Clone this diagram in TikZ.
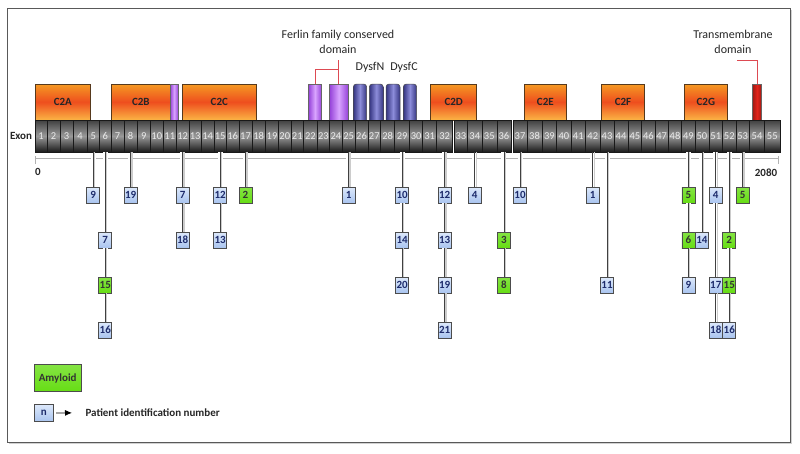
\documentclass[tikz,border=0pt]{standalone}
\usepackage{fontspec}
\setmainfont{Carlito}
\usetikzlibrary{arrows.meta}

\definecolor{patblue}{HTML}{A9C4EF}
\definecolor{patbluetop}{HTML}{DDE9FB}
\definecolor{patnum}{HTML}{1D2B6B}
\definecolor{amygreen}{HTML}{66DD14}
\definecolor{ctwotop}{HTML}{F59A23}
\definecolor{ctwomid}{HTML}{EE4E1E}
\definecolor{ctwobot}{HTML}{FBB444}
\definecolor{ferlinedge}{HTML}{9440D8}
\definecolor{ferlinmid}{HTML}{D9A4FF}
\definecolor{dysfedge}{HTML}{343480}
\definecolor{dysfmid}{HTML}{8C8CDA}
\definecolor{tmred}{HTML}{E2231A}
\definecolor{bracketred}{HTML}{DD4A52}

\tikzset{
  exon/.style={draw=black!90, line width=0.6pt, top color=black!75, bottom color=black!90,
    middle color=black!40, minimum height=32, inner sep=0pt, text=black!8,
    font=\fontsize{10.5}{11}\selectfont},
  ctwo/.style={draw=black!55!brown, line width=0.6pt, top color=ctwotop, bottom color=ctwobot,
    middle color=ctwomid, minimum height=36, inner sep=0pt, text=black!85,
    font=\fontsize{11}{12}\selectfont\bfseries},
  ferlin/.style={draw=black!60, line width=0.5pt, left color=ferlinedge, right color=ferlinedge,
    middle color=ferlinmid, minimum height=36, inner sep=0pt},
  dysf/.style={draw=black!70, line width=0.5pt, left color=dysfedge, right color=dysfedge,
    middle color=dysfmid, minimum height=40, inner sep=0pt, rounded corners=3pt},
  tmd/.style={draw=black!60, line width=0.5pt, left color=tmred!70!black, right color=tmred!70!black,
    middle color=tmred, minimum height=36, inner sep=0pt},
  pat/.style={draw=black!70, line width=0.7pt, top color=patbluetop, bottom color=patblue,
    minimum width=13, minimum height=16, inner sep=0pt, text=patnum,
    font=\fontsize{11}{12}\selectfont\bfseries},
  amy/.style={pat, top color=amygreen!80!white, bottom color=amygreen, text=black!80},
  link/.style={draw=black!75, line width=0.8pt,
    preaction={draw=white, line width=5pt, shorten <=1pt, shorten >=1pt},
    preaction={draw=black!20, line width=1.2pt, transform canvas={xshift=1.4pt}}},
  bracket/.style={draw=bracketred, line width=0.8pt},
  scaleline/.style={draw=black!30, line width=0.8pt},
  lbl/.style={text=black!85, font=\fontsize{12}{15}\selectfont, align=center}
}

\begin{document}
\begin{tikzpicture}[x=1pt, y=-1pt]
\useasboundingbox (0,0) rectangle (800,453);
\fill[black!18] (9,10) rectangle (792,444);
\filldraw[fill=white, draw=black!65, line width=1pt] (7,8) rectangle (790,442);

\node[lbl] (ferlbl) at (338,41.5) {Ferlin family conserved\\domain};
\node[lbl] (tmlbl) at (733,41.5) {Transmembrane\\domain};
\node[lbl] (dysfn) at (370,67) {DysfN};
\node[lbl] (dysfc) at (404,67) {DysfC};

\node[ctwo, minimum width=55.7] (c2a) at (62.85,102) {C2A};
\node[ctwo, minimum width=58.3] (c2b) at (140.85,102) {C2B};
\node[ferlin, minimum width=8.3] (fer0) at (174.15,102) {};
\node[ctwo, minimum width=73.3] (c2c) at (219.35,102) {C2C};
\node[ferlin, minimum width=13.4] (fer1) at (315,102) {};
\node[ferlin, minimum width=19] (fer2) at (338.8,102) {};
\node[dysf, minimum width=13.4] (dys1) at (360,104) {};
\node[dysf, minimum width=14] (dys2) at (376.3,104) {};
\node[dysf, minimum width=14] (dys3) at (393,104) {};
\node[dysf, minimum width=13.4] (dys4) at (410,104) {};
\node[ctwo, minimum width=46] (c2d) at (453.7,102) {C2D};
\node[ctwo, minimum width=42.7] (c2e) at (545.35,102) {C2E};
\node[ctwo, minimum width=42.6] (c2f) at (623,102) {C2F};
\node[ctwo, minimum width=43] (c2g) at (705.8,102) {C2G};
\node[tmd, minimum width=9.4] (tm) at (757,102) {};

\coordinate (ferbend) at (fer1.north |- 0,69);
\coordinate (fercorner) at (fer2.north |- 0,69);
\coordinate (fertop) at (fer2.north |- 0,60);
\draw[bracket] (fer1.north) -- (ferbend) -- (fercorner);
\draw[bracket] (fer2.north) -- (fertop);
\coordinate (tmbend) at (tm.north |- 0,60.7);
\coordinate (tmend) at (737,60.7);
\draw[bracket] (tm.north) -- (tmbend) -- (tmend);

\node[text=black!85, font=\fontsize{11}{12}\selectfont\bfseries] (exonlbl) at (21,136) {Exon};
\foreach \n/\l/\r in {1/35/47, 2/47/60, 3/60/73.3, 4/73.3/87, 5/87/99.5, 6/99.5/111,
    7/111/124, 8/124/137.3, 9/137.3/150.3, 10/150.3/163.3, 11/163.3/176.3, 12/176.3/189,
    13/189/201.3, 14/201.3/214, 15/214/226.3, 16/226.3/239, 17/239/252, 18/252/265.3,
    19/265.3/278.7, 20/278.7/290.8, 21/290.8/303.7, 22/303.7/317, 23/317/329.7,
    24/329.7/342.2, 25/342.2/355, 26/355/368, 27/368/380.5, 28/380.5/394.7,
    29/394.7/409.7, 30/409.7/422.5, 31/422.5/436.7, 32/436.7/452.5, 33/454/467.7,
    34/467.7/481.8, 35/481.8/496.8, 36/496.8/511, 37/513/527, 38/527/542, 39/542/556.7,
    40/556.7/571, 41/571/585.5, 42/585.5/600, 43/600/614, 44/614/628, 45/628/641.7,
    46/641.7/655, 47/655/668.3, 48/668.3/681.7, 49/681.7/695, 50/695/708.8,
    51/708.8/722.7, 52/722.7/735.8, 53/735.8/749.5, 54/749.5/764.5, 55/764.5/780}
  \node[exon, minimum width={\r-\l}] (e\n) at ({(\l+\r)/2},136) {\n};

\draw[scaleline] (35,158) -- (778,158);
\draw[scaleline] (35,156) -- (35,164);
\draw[scaleline] (778,156) -- (778,164);
\node[text=black!85, font=\fontsize{11}{12}\selectfont\bfseries] (zero) at (38,172) {0};
\node[text=black!85, font=\fontsize{11}{12}\selectfont\bfseries] (end) at (766,173) {2080};

\foreach \e/\r/\y/\n/\s in {5/a/195/9/pat, 6/b/240/7/pat, 6/c/285/15/amy, 6/d/330/16/pat,
    8/a/195/19/pat, 12/a/195/7/pat, 12/b/240/18/pat, 15/a/195/12/pat, 15/b/240/13/pat,
    17/a/195/2/amy, 25/a/195/1/pat, 29/a/195/10/pat, 29/b/240/14/pat, 29/c/285/20/pat,
    32/a/195/12/pat, 32/b/240/13/pat, 32/c/285/19/pat, 32/d/330/21/pat, 34/a/195/4/pat,
    36/b/240/3/amy, 36/c/285/8/amy, 37/a/195/10/pat, 42/a/195/1/pat, 43/c/285/11/pat,
    49/a/195/5/amy, 49/b/240/6/amy, 49/c/285/9/pat, 50/b/240/14/pat, 51/a/195/4/pat,
    51/c/285/17/pat, 51/d/330/18/pat, 52/b/240/2/amy, 52/c/285/15/amy, 52/d/330/16/pat,
    53/a/195/5/amy}
  \node[\s] (p\e\r) at (e\e |- 0,\y) {\n};

\draw[link] (e5) -- (p5a);
\draw[link] (e6) -- (p6b) -- (p6c) -- (p6d);
\draw[link] (e8) -- (p8a);
\draw[link] (e12) -- (p12a) -- (p12b);
\draw[link] (e15) -- (p15a) -- (p15b);
\draw[link] (e17) -- (p17a);
\draw[link] (e25) -- (p25a);
\draw[link] (e29) -- (p29a) -- (p29b) -- (p29c);
\draw[link] (e32) -- (p32a) -- (p32b) -- (p32c) -- (p32d);
\draw[link] (e34) -- (p34a);
\draw[link] (e36) -- (p36b) -- (p36c);
\draw[link] (e37) -- (p37a);
\draw[link] (e42) -- (p42a);
\draw[link] (e43) -- (p43c);
\draw[link] (e49) -- (p49a) -- (p49b) -- (p49c);
\draw[link] (e50) -- (p50b);
\draw[link] (e51) -- (p51a) -- (p51c) -- (p51d);
\draw[link] (e52) -- (p52b) -- (p52c) -- (p52d);
\draw[link] (e53) -- (p53a);

\node[amy, minimum width=47, minimum height=27] (amylegend) at (57.7,378.3) {Amyloid};
\node[pat, minimum width=19, minimum height=17.5] (nlegend) at (43.8,413) {n};
\node[right, text=black!85, font=\fontsize{11}{12}\selectfont\bfseries] (pidlegend) at (82,412.5) {Patient identification number};
\draw[-{Latex[length=7pt,width=6pt]}, line width=0.8pt, shorten <=2.5pt, shorten >=10pt] (nlegend) -- (pidlegend);
\end{tikzpicture}
\end{document}
